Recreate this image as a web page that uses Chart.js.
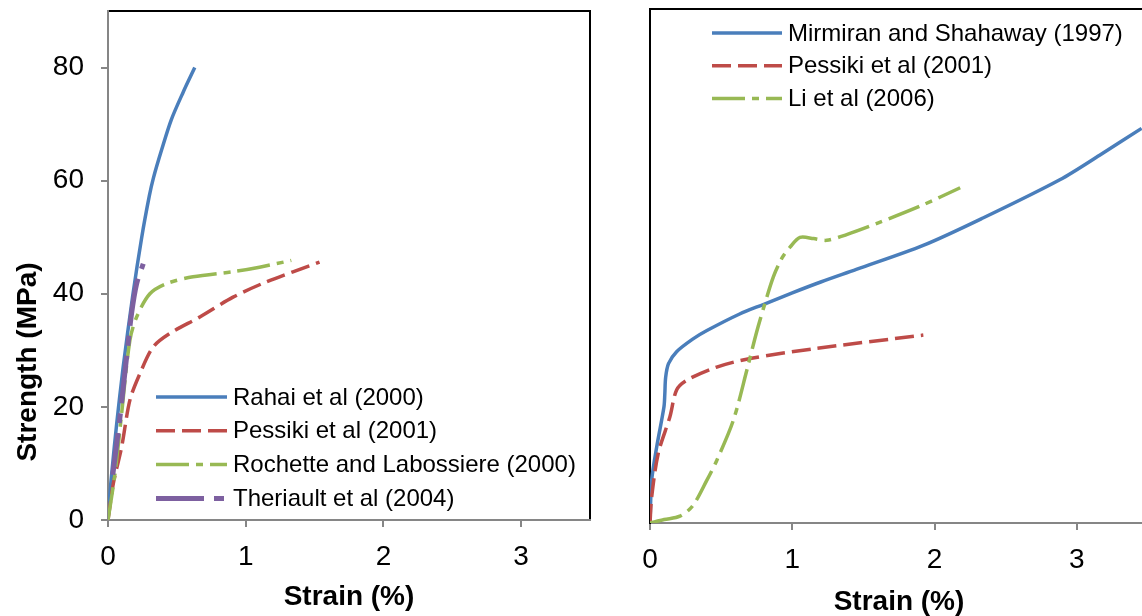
<!DOCTYPE html>
<html>
<head>
<meta charset="utf-8">
<script src="https://cdn.jsdelivr.net/npm/chart.js@4/dist/chart.umd.min.js"></script>
<style>
html,body{margin:0;padding:0;background:#fff;overflow:hidden;width:1142px;height:616px;}
#wrapL{position:absolute;left:0;top:0;width:600px;height:616px;}
#wrapR{position:absolute;left:600px;top:0;width:560px;height:616px;}
</style>
</head>
<body>
<div id="wrapL"><canvas id="left" width="600" height="616"></canvas></div>
<div id="wrapR"><canvas id="right" width="560" height="616"></canvas></div>
<script>
// ---------- tick labels ----------
const xTickValues = [0, 1, 2, 3];
const yTickValues = [0, 20, 40, 60, 80];
const xTitle = 'Strain (%)';
const yTitle = 'Strength (MPa)';

// ---------- left panel series ----------
const leftNames = ['Rahai et al (2000)', 'Pessiki et al (2001)', 'Rochette and Labossiere (2000)', 'Theriault et al (2004)'];
const rahaiStrain = [0, 0.015, 0.03, 0.063, 0.11, 0.178, 0.245, 0.30, 0.33, 0.39, 0.46, 0.545, 0.63];
const rahaiStress = [0, 5, 9, 17, 27, 39.4, 50, 57.3, 60.5, 65.5, 70.8, 75.6, 80];
const pessikiLStrain = [0, 0.039, 0.099, 0.159, 0.232, 0.328, 0.449, 0.667, 0.908, 1.15, 1.536];
const pessikiLStress = [0, 6.5, 12.9, 21.2, 25.9, 30.6, 33, 35.9, 39.4, 42.1, 45.6];
const rochetteStrain = [0, 0.051, 0.099, 0.159, 0.208, 0.304, 0.425, 0.618, 0.908, 1.10, 1.331];
const rochetteStress = [0, 8.2, 18.8, 31.8, 35.9, 40, 41.8, 43, 43.9, 44.7, 45.9];
const theriaultStrain = [0.035, 0.087, 0.135, 0.171, 0.208, 0.256];
const theriaultStress = [8, 18.2, 28.8, 36.5, 41.8, 45.3];

// ---------- right panel series ----------
const rightNames = ['Mirmiran and Shahaway (1997)', 'Pessiki et al (2001)', 'Li et al (2006)'];
const mirmiranStrain = [0, 0.012, 0.047, 0.098, 0.104, 0.11, 0.13, 0.187, 0.3, 0.4, 0.63, 0.8, 1.0, 1.2, 1.45, 1.92, 2.34, 2.88, 3.16, 3.455];
const mirmiranStress = [0, 7.5, 13.3, 20.3, 22.5, 25.5, 27.9, 30, 32.2, 33.7, 36.6, 38.3, 40.3, 42.2, 44.4, 48.6, 53.4, 60.1, 64.4, 69.1];
const pessikiRStrain = [0, 0.012, 0.058, 0.14, 0.187, 0.258, 0.469, 0.703, 1.148, 1.921];
const pessikiRStress = [0, 4.6, 12.2, 18.6, 23.3, 25, 27.3, 28.8, 30.5, 32.9];
const liStrain = [0, 0.1, 0.21, 0.3, 0.4, 0.47, 0.586, 0.68, 0.75, 0.8, 0.867, 0.93, 0.984, 1.054, 1.15, 1.242, 1.382, 1.6, 1.9, 2.18];
const liStress = [0, 0.6, 1.2, 3, 7.5, 11, 18, 26.7, 33.5, 37.8, 43.1, 46.5, 48.3, 50, 49.8, 49.5, 50.5, 52.5, 55.5, 58.7];

// ---------- styles ----------
const BLUE = '#4A7EBB', RED = '#BE4B48', GREEN = '#98B954', PURPLE = '#7D60A0';
const FONT = "'Liberation Sans', Arial, sans-serif";

function pts(xs, ys) { return xs.map((x, i) => ({x: x, y: ys[i]})); }

function ds(label, xs, ys, color, width, dash, order, dashOffset) {
  return {
    label: label, data: pts(xs, ys), showLine: true, borderColor: color, backgroundColor: color,
    borderWidth: width, borderDash: dash, borderDashOffset: dashOffset || 0, borderCapStyle: 'butt',
    pointRadius: 0, pointHoverRadius: 0, tension: 0.3, fill: false, order: order
  };
}

const legendPlugin = {
  id: 'customLegend',
  afterDraw(chart, args, opts) {
    const ctx = chart.ctx;
    ctx.save();
    ctx.font = '24px ' + FONT;
    ctx.textBaseline = 'middle';
    ctx.textAlign = 'left';
    chart.data.datasets.forEach((d, i) => {
      const y = opts.y0 + i * opts.dy;
      ctx.beginPath();
      ctx.strokeStyle = d.borderColor;
      ctx.lineWidth = d.borderWidth;
      ctx.lineCap = 'butt';
      ctx.setLineDash(d.borderDash || []);
      ctx.moveTo(opts.x0, y);
      ctx.lineTo(opts.x1, y);
      ctx.stroke();
      ctx.setLineDash([]);
      ctx.fillStyle = '#000';
      ctx.fillText(d.label, opts.tx, y + 1);
    });
    ctx.restore();
  }
};

const framePlugin = {
  id: 'frame',
  beforeDraw(chart) {
    const a = chart.chartArea, ctx = chart.ctx;
    ctx.save();
    ctx.strokeStyle = '#000';
    ctx.lineWidth = 2;
    ctx.strokeRect(a.left, a.top, a.right - a.left, a.bottom - a.top);
    ctx.restore();
  }
};

const yTitlePlugin = {
  id: 'yTitle',
  afterDraw(chart, args, opts) {
    if (!opts.text) return;
    const ctx = chart.ctx;
    ctx.save();
    ctx.translate(opts.x, opts.y);
    ctx.rotate(-Math.PI / 2);
    ctx.font = 'bold 28px ' + FONT;
    ctx.fillStyle = '#000';
    ctx.textAlign = 'center';
    ctx.textBaseline = 'middle';
    ctx.fillText(opts.text, 0, 0);
    ctx.restore();
  }
};

function makeChart(id, datasets, o) {
  return new Chart(document.getElementById(id), {
    type: 'scatter',
    data: {datasets: datasets},
    plugins: [framePlugin, legendPlugin, yTitlePlugin],
    options: {
      responsive: false, animation: false, devicePixelRatio: 1,
      layout: {padding: {top: o.padTop, right: o.padRight, left: 0, bottom: 0}},
      plugins: {
        legend: {display: false}, tooltip: {enabled: false},
        customLegend: o.legend,
        yTitle: o.yTitle
      },
      scales: {
        x: {
          type: 'linear', min: 0, max: 3.5,
          afterBuildTicks: s => { s.ticks = xTickValues.map(v => ({value: v})); },
          afterFit: s => { s.height = o.xHeight; s.paddingLeft = 0; s.paddingRight = 0; },
          grid: {display: true, drawOnChartArea: false, drawTicks: true, tickLength: 7, color: '#868686', lineWidth: 2},
          border: {display: true, color: '#868686', width: 2},
          ticks: {color: '#000', font: {family: FONT, size: 28}, padding: 13, maxRotation: 0},
          title: {display: true, text: xTitle, color: '#000', font: {family: FONT, size: 28, weight: 'bold'}, padding: {top: 0, bottom: o.xTitlePad}}
        },
        y: {
          type: 'linear', min: 0, max: 90,
          afterBuildTicks: s => { s.ticks = yTickValues.map(v => ({value: v})); },
          afterFit: s => { s.width = o.yWidth; s.paddingTop = 0; s.paddingBottom = 0; },
          grid: {display: o.yTicks, drawOnChartArea: false, drawTicks: true, tickLength: 7, color: '#868686', lineWidth: 2},
          border: {display: true, color: o.yBorder, width: 2},
          ticks: {display: o.yTicks, color: '#000', font: {family: FONT, size: 28}, padding: 17},
          title: {display: false}
        }
      }
    }
  });
}

makeChart('left', [
  ds(leftNames[0], rahaiStrain, rahaiStress, BLUE, 3.5, [], 3),
  ds(leftNames[1], pessikiLStrain, pessikiLStress, RED, 3.5, [19, 7], 2),
  ds(leftNames[2], rochetteStrain, rochetteStress, GREEN, 3.5, [33, 7, 7, 7], 1),
  ds(leftNames[3], theriaultStrain, theriaultStress, PURPLE, 5, [48, 10, 10, 10], 0, 6)
], {
  padTop: 11, padRight: 10, xHeight: 96, yWidth: 108, xTitlePad: 2, yTicks: true, yBorder: '#868686',
  legend: {x0: 156, x1: 227, tx: 233, y0: 397, dy: 33.8},
  yTitle: {text: yTitle, x: 28, y: 362}
});

makeChart('right', [
  ds(rightNames[0], mirmiranStrain, mirmiranStress, BLUE, 3.5, [], 2),
  ds(rightNames[1], pessikiRStrain, pessikiRStress, RED, 3.5, [19, 7], 1),
  ds(rightNames[2], liStrain, liStress, GREEN, 3.5, [33, 7, 7, 7], 0)
], {
  padTop: 9, padRight: 12, xHeight: 93, yWidth: 50, xTitlePad: -3, yTicks: false, yBorder: '#000',
  legend: {x0: 112, x1: 182, tx: 188, y0: 33, dy: 32.7},
  yTitle: {text: ''}
});
</script>
</body>
</html>
